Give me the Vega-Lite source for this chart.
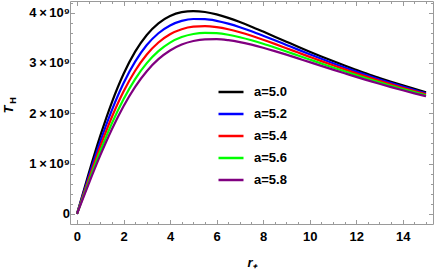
{
  "$schema": "https://vega.github.io/schema/vega-lite/v6.json",
  "width": 363,
  "height": 223,
  "autosize": {"type": "none"},
  "padding": {"left": 70, "top": 1, "right": 3, "bottom": 50},
  "background": "white",
  "config": {
    "view": {"stroke": "#9a9a9a", "strokeWidth": 1},
    "font": "Liberation Sans",
    "axis": {"grid": false, "domain": false, "tickColor": "#9a9a9a", "labelFont": "Liberation Sans", "labelFontWeight": "bold", "labelFontSize": 13, "labelColor": "black", "titleColor": "black"}
  },
  "datasets": {
    "curves": [
      {"a":"a=5.0","r":0,"T":0},{"a":"a=5.0","r":0.5,"T":0.798},{"a":"a=5.0","r":1,"T":1.550},{"a":"a=5.0","r":1.5,"T":2.218},{"a":"a=5.0","r":2,"T":2.779},{"a":"a=5.0","r":2.5,"T":3.224},{"a":"a=5.0","r":3,"T":3.556},{"a":"a=5.0","r":3.5,"T":3.787},{"a":"a=5.0","r":4,"T":3.932},{"a":"a=5.0","r":4.5,"T":4.008},{"a":"a=5.0","r":5,"T":4.030},{"a":"a=5.0","r":5.5,"T":4.012},{"a":"a=5.0","r":6,"T":3.964},{"a":"a=5.0","r":6.5,"T":3.895},{"a":"a=5.0","r":7,"T":3.812},{"a":"a=5.0","r":7.5,"T":3.720},{"a":"a=5.0","r":8,"T":3.622},{"a":"a=5.0","r":8.5,"T":3.522},{"a":"a=5.0","r":9,"T":3.422},{"a":"a=5.0","r":9.5,"T":3.322},{"a":"a=5.0","r":10,"T":3.224},{"a":"a=5.0","r":10.5,"T":3.129},{"a":"a=5.0","r":11,"T":3.036},{"a":"a=5.0","r":11.5,"T":2.947},{"a":"a=5.0","r":12,"T":2.862},{"a":"a=5.0","r":12.5,"T":2.779},{"a":"a=5.0","r":13,"T":2.701},{"a":"a=5.0","r":13.5,"T":2.625},{"a":"a=5.0","r":14,"T":2.553},{"a":"a=5.0","r":14.5,"T":2.484},{"a":"a=5.0","r":15,"T":2.418},
      {"a":"a=5.2","r":0,"T":0},{"a":"a=5.2","r":0.5,"T":0.738},{"a":"a=5.2","r":1,"T":1.437},{"a":"a=5.2","r":1.5,"T":2.064},{"a":"a=5.2","r":2,"T":2.597},{"a":"a=5.2","r":2.5,"T":3.026},{"a":"a=5.2","r":3,"T":3.355},{"a":"a=5.2","r":3.5,"T":3.590},{"a":"a=5.2","r":4,"T":3.745},{"a":"a=5.2","r":4.5,"T":3.835},{"a":"a=5.2","r":5,"T":3.872},{"a":"a=5.2","r":5.5,"T":3.869},{"a":"a=5.2","r":6,"T":3.836},{"a":"a=5.2","r":6.5,"T":3.780},{"a":"a=5.2","r":7,"T":3.710},{"a":"a=5.2","r":7.5,"T":3.629},{"a":"a=5.2","r":8,"T":3.541},{"a":"a=5.2","r":8.5,"T":3.450},{"a":"a=5.2","r":9,"T":3.357},{"a":"a=5.2","r":9.5,"T":3.264},{"a":"a=5.2","r":10,"T":3.172},{"a":"a=5.2","r":10.5,"T":3.082},{"a":"a=5.2","r":11,"T":2.994},{"a":"a=5.2","r":11.5,"T":2.909},{"a":"a=5.2","r":12,"T":2.827},{"a":"a=5.2","r":12.5,"T":2.748},{"a":"a=5.2","r":13,"T":2.672},{"a":"a=5.2","r":13.5,"T":2.600},{"a":"a=5.2","r":14,"T":2.530},{"a":"a=5.2","r":14.5,"T":2.463},{"a":"a=5.2","r":15,"T":2.398},
      {"a":"a=5.4","r":0,"T":0},{"a":"a=5.4","r":0.5,"T":0.685},{"a":"a=5.4","r":1,"T":1.336},{"a":"a=5.4","r":1.5,"T":1.925},{"a":"a=5.4","r":2,"T":2.431},{"a":"a=5.4","r":2.5,"T":2.845},{"a":"a=5.4","r":3,"T":3.168},{"a":"a=5.4","r":3.5,"T":3.406},{"a":"a=5.4","r":4,"T":3.570},{"a":"a=5.4","r":4.5,"T":3.670},{"a":"a=5.4","r":5,"T":3.720},{"a":"a=5.4","r":5.5,"T":3.731},{"a":"a=5.4","r":6,"T":3.711},{"a":"a=5.4","r":6.5,"T":3.668},{"a":"a=5.4","r":7,"T":3.609},{"a":"a=5.4","r":7.5,"T":3.539},{"a":"a=5.4","r":8,"T":3.461},{"a":"a=5.4","r":8.5,"T":3.378},{"a":"a=5.4","r":9,"T":3.292},{"a":"a=5.4","r":9.5,"T":3.206},{"a":"a=5.4","r":10,"T":3.120},{"a":"a=5.4","r":10.5,"T":3.035},{"a":"a=5.4","r":11,"T":2.952},{"a":"a=5.4","r":11.5,"T":2.871},{"a":"a=5.4","r":12,"T":2.793},{"a":"a=5.4","r":12.5,"T":2.717},{"a":"a=5.4","r":13,"T":2.644},{"a":"a=5.4","r":13.5,"T":2.573},{"a":"a=5.4","r":14,"T":2.506},{"a":"a=5.4","r":14.5,"T":2.441},{"a":"a=5.4","r":15,"T":2.378},
      {"a":"a=5.6","r":0,"T":0},{"a":"a=5.6","r":0.5,"T":0.637},{"a":"a=5.6","r":1,"T":1.245},{"a":"a=5.6","r":1.5,"T":1.799},{"a":"a=5.6","r":2,"T":2.279},{"a":"a=5.6","r":2.5,"T":2.679},{"a":"a=5.6","r":3,"T":2.996},{"a":"a=5.6","r":3.5,"T":3.234},{"a":"a=5.6","r":4,"T":3.404},{"a":"a=5.6","r":4.5,"T":3.514},{"a":"a=5.6","r":5,"T":3.575},{"a":"a=5.6","r":5.5,"T":3.598},{"a":"a=5.6","r":6,"T":3.590},{"a":"a=5.6","r":6.5,"T":3.559},{"a":"a=5.6","r":7,"T":3.510},{"a":"a=5.6","r":7.5,"T":3.450},{"a":"a=5.6","r":8,"T":3.381},{"a":"a=5.6","r":8.5,"T":3.306},{"a":"a=5.6","r":9,"T":3.228},{"a":"a=5.6","r":9.5,"T":3.148},{"a":"a=5.6","r":10,"T":3.068},{"a":"a=5.6","r":10.5,"T":2.988},{"a":"a=5.6","r":11,"T":2.910},{"a":"a=5.6","r":11.5,"T":2.833},{"a":"a=5.6","r":12,"T":2.758},{"a":"a=5.6","r":12.5,"T":2.685},{"a":"a=5.6","r":13,"T":2.615},{"a":"a=5.6","r":13.5,"T":2.547},{"a":"a=5.6","r":14,"T":2.482},{"a":"a=5.6","r":14.5,"T":2.419},{"a":"a=5.6","r":15,"T":2.358},
      {"a":"a=5.8","r":0,"T":0},{"a":"a=5.8","r":0.5,"T":0.595},{"a":"a=5.8","r":1,"T":1.163},{"a":"a=5.8","r":1.5,"T":1.684},{"a":"a=5.8","r":2,"T":2.141},{"a":"a=5.8","r":2.5,"T":2.526},{"a":"a=5.8","r":3,"T":2.835},{"a":"a=5.8","r":3.5,"T":3.074},{"a":"a=5.8","r":4,"T":3.247},{"a":"a=5.8","r":4.5,"T":3.365},{"a":"a=5.8","r":5,"T":3.436},{"a":"a=5.8","r":5.5,"T":3.469},{"a":"a=5.8","r":6,"T":3.472},{"a":"a=5.8","r":6.5,"T":3.452},{"a":"a=5.8","r":7,"T":3.414},{"a":"a=5.8","r":7.5,"T":3.362},{"a":"a=5.8","r":8,"T":3.302},{"a":"a=5.8","r":8.5,"T":3.235},{"a":"a=5.8","r":9,"T":3.164},{"a":"a=5.8","r":9.5,"T":3.090},{"a":"a=5.8","r":10,"T":3.016},{"a":"a=5.8","r":10.5,"T":2.941},{"a":"a=5.8","r":11,"T":2.867},{"a":"a=5.8","r":11.5,"T":2.794},{"a":"a=5.8","r":12,"T":2.722},{"a":"a=5.8","r":12.5,"T":2.653},{"a":"a=5.8","r":13,"T":2.585},{"a":"a=5.8","r":13.5,"T":2.520},{"a":"a=5.8","r":14,"T":2.457},{"a":"a=5.8","r":14.5,"T":2.396},{"a":"a=5.8","r":15,"T":2.337}
    ]
  },
  "data": {"name": "curves"},
  "resolve": {"axis": {"x": "independent", "y": "independent"}},
  "layer": [
    {
      "mark": {"type": "line", "interpolate": "monotone", "strokeWidth": 2.2},
      "encoding": {
        "x": {"field": "r", "type": "quantitative", "scale": {"domain": [-0.3, 15.3], "nice": false, "zero": false},
          "axis": {"orient": "bottom", "values": [0, 2, 4, 6, 8, 10, 12, 14], "tickSize": -4.5, "labelPadding": 11, "title": "r₊", "titleFont": "Liberation Sans", "titleFontStyle": "italic", "titleFontWeight": "bold", "titleFontSize": 13, "titlePadding": 13}},
        "y": {"field": "T", "type": "quantitative", "scale": {"domain": [-0.2, 4.23], "nice": false, "zero": false},
          "axis": {"orient": "left", "values": [0, 1, 2, 3, 4], "tickSize": -4.5, "labelPadding": 5, "labelExpr": "datum.value == 0 ? '0' : datum.value + '\u2009×\u200910⁹'", "title": "T", "titleFont": "Liberation Sans", "titleFontStyle": "italic", "titleFontWeight": "bold", "titleFontSize": 13, "titleAngle": -90, "titleAlign": "center", "titleBaseline": "alphabetic", "titleX": -58, "titleY": 108}},
        "color": {"field": "a", "type": "nominal",
          "scale": {"domain": ["a=5.0", "a=5.2", "a=5.4", "a=5.6", "a=5.8"], "range": ["#000000", "#0000ff", "#ff0000", "#00ff00", "#800080"]},
          "legend": {"orient": "none", "legendX": 147, "legendY": 77, "title": null, "symbolType": "stroke", "symbolSize": 625, "symbolStrokeWidth": 2.5, "labelFont": "Liberation Sans", "labelFontWeight": "bold", "labelFontSize": 13, "labelColor": "black", "labelOffset": 9, "rowPadding": 1}}
      }
    },
    {
      "mark": {"type": "line", "strokeOpacity": 0},
      "encoding": {
        "detail": {"field": "a"},
        "x": {"field": "r", "type": "quantitative", "scale": {"domain": [-0.3, 15.3], "nice": false, "zero": false},
          "axis": {"orient": "bottom", "values": [0.5, 1, 1.5, 2.5, 3, 3.5, 4.5, 5, 5.5, 6.5, 7, 7.5, 8.5, 9, 9.5, 10.5, 11, 11.5, 12.5, 13, 13.5, 14.5, 15], "tickSize": -2.5, "labels": false, "title": null}},
        "y": {"field": "T", "type": "quantitative", "scale": {"domain": [-0.2, 4.23], "nice": false, "zero": false},
          "axis": {"orient": "left", "values": [0.2, 0.4, 0.6, 0.8, 1.2, 1.4, 1.6, 1.8, 2.2, 2.4, 2.6, 2.8, 3.2, 3.4, 3.6, 3.8, 4.2], "tickSize": -2.5, "labels": false, "title": "H", "titleFont": "Liberation Sans", "titleFontWeight": "bold", "titleFontSize": 9, "titleAngle": -90, "titleAlign": "center", "titleBaseline": "alphabetic", "titleX": -55, "titleY": 99}}
      }
    },
    {
      "mark": {"type": "line", "strokeOpacity": 0},
      "encoding": {
        "detail": {"field": "a"},
        "x": {"field": "r", "type": "quantitative", "scale": {"domain": [-0.3, 15.3], "nice": false, "zero": false},
          "axis": {"orient": "top", "values": [0, 2, 4, 6, 8, 10, 12, 14], "tickSize": -4.5, "labels": false, "title": null}},
        "y": {"field": "T", "type": "quantitative", "scale": {"domain": [-0.2, 4.23], "nice": false, "zero": false},
          "axis": {"orient": "right", "values": [0, 1, 2, 3, 4], "tickSize": -4.5, "labels": false, "title": null}}
      }
    },
    {
      "mark": {"type": "line", "strokeOpacity": 0},
      "encoding": {
        "detail": {"field": "a"},
        "x": {"field": "r", "type": "quantitative", "scale": {"domain": [-0.3, 15.3], "nice": false, "zero": false},
          "axis": {"orient": "top", "values": [0.5, 1, 1.5, 2.5, 3, 3.5, 4.5, 5, 5.5, 6.5, 7, 7.5, 8.5, 9, 9.5, 10.5, 11, 11.5, 12.5, 13, 13.5, 14.5, 15], "tickSize": -2.5, "labels": false, "title": null}},
        "y": {"field": "T", "type": "quantitative", "scale": {"domain": [-0.2, 4.23], "nice": false, "zero": false},
          "axis": {"orient": "right", "values": [0.2, 0.4, 0.6, 0.8, 1.2, 1.4, 1.6, 1.8, 2.2, 2.4, 2.6, 2.8, 3.2, 3.4, 3.6, 3.8, 4.2], "tickSize": -2.5, "labels": false, "title": null}}
      }
    }
  ]
}
